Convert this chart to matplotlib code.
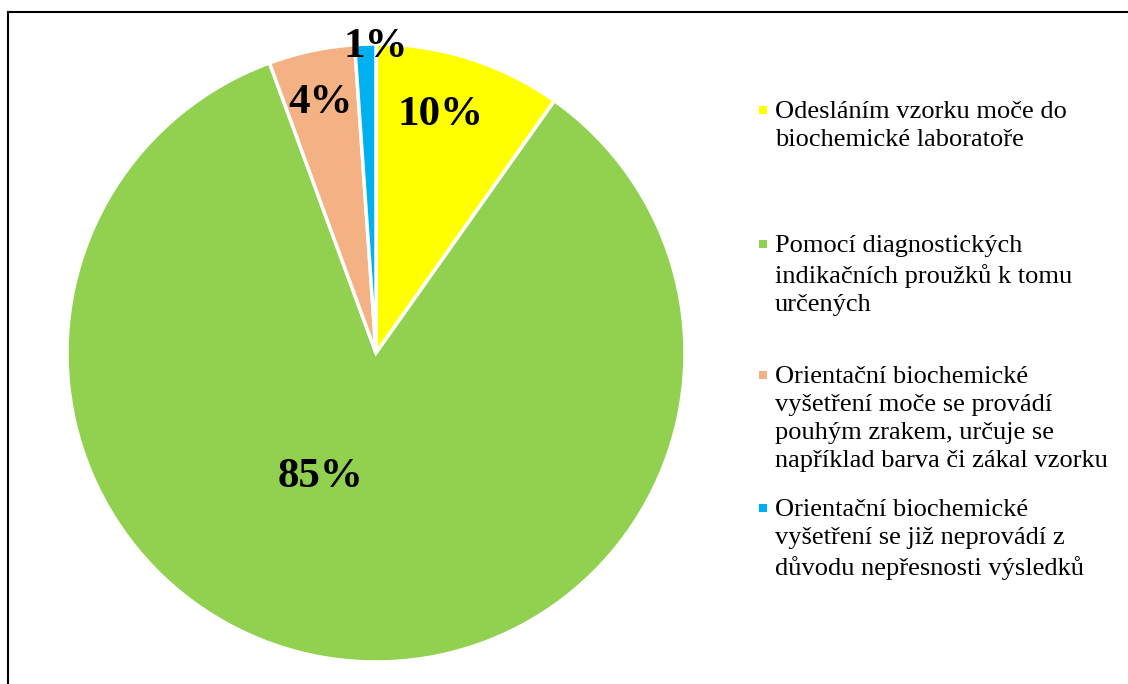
import matplotlib.pyplot as plt
from matplotlib.lines import Line2D

categories = [
    'Odesláním vzorku moče do\nbiochemické laboratoře',
    'Pomocí diagnostických\nindikačních proužků k tomu\nurčených',
    'Orientační biochemické\nvyšetření moče se provádí\npouhým zrakem, určuje se\nnapříklad barva či zákal vzorku',
    'Orientační biochemické\nvyšetření se již neprovádí z\ndůvodu nepřesnosti výsledků',
]
shares = [9.8, 84.6, 4.5, 1.1]
pct_labels = ['10%', '85%', '4%', '1%']
colors = ['#FFFF00', '#92D050', '#F4B183', '#00B0F0']

# label positions inside the pie (data units, radius 1)
label_pos = [(0.21, 0.77), (-0.18, -0.40), (-0.18, 0.81), (0.0, 0.99)]
# legend rows (pixel y of marker from top)
legend_y = [110, 244, 375, 508]

plt.rcParams['font.family'] = ['Liberation Serif', 'DejaVu Serif']

W, H = 1128, 684
fig = plt.figure(figsize=(W / 100, H / 100), dpi=100)
ax = fig.add_axes([67 / W, (H - 662) / H, 618 / W, 618 / H])

ax.pie(shares, colors=colors, startangle=90, counterclock=False,
       wedgeprops=dict(edgecolor='white', linewidth=2.5))
ax.set_xlim(-1, 1)
ax.set_ylim(-1, 1)
ax.set_aspect('equal')
ax.axis('off')

for (x, y), lab in zip(label_pos, pct_labels):
    ax.text(x, y, lab, ha='center', va='center', fontsize=31,
            fontweight='bold', color='black')

# legend drawn by hand to keep Excel-like spacing
for y, lab, c in zip(legend_y, categories, colors):
    fig.patches.append(plt.Rectangle((759 / W, 1 - (y + 4) / H), 8 / W, 8 / H,
                                     transform=fig.transFigure,
                                     facecolor=c, edgecolor='none'))
    fig.text(775 / W, 1 - (y - 9) / H, lab, ha='left', va='top',
             fontsize=19, linespacing=1.36, color='black')

# chart frame (only top and left edges visible)
fy = 1 - 12 / H
fx = 8 / W
fig.add_artist(Line2D([fx, fx], [0, fy], color='black', linewidth=1.5))
fig.add_artist(Line2D([fx, 1], [fy, fy], color='black', linewidth=1.5))

fig.savefig('out.png', dpi=100, facecolor='white')
